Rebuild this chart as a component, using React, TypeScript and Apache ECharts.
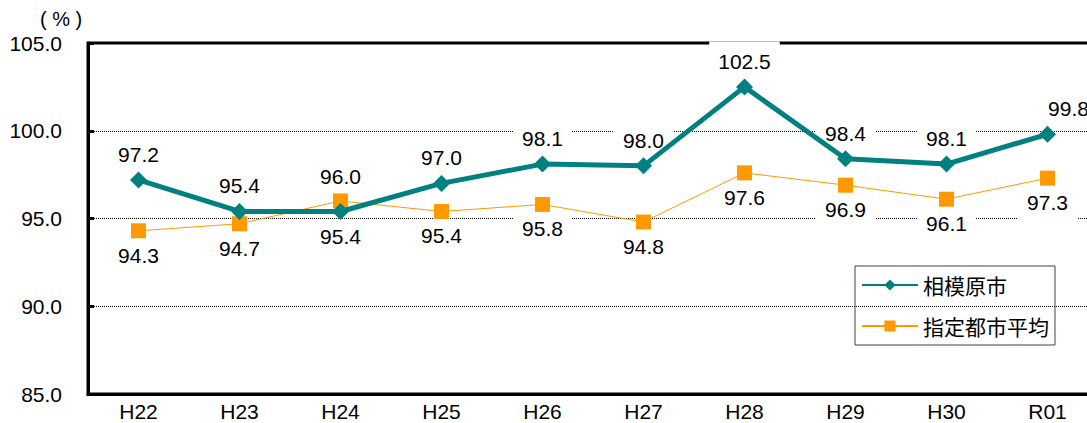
import React, { useEffect, useRef } from 'react';
import * as echarts from 'echarts';

const categories = ['H22', 'H23', 'H24', 'H25', 'H26', 'H27', 'H28', 'H29', 'H30', 'R01'];
const sagamihara = [97.2, 95.4, 95.4, 97.0, 98.1, 98.0, 102.5, 98.4, 98.1, 99.8];
const cityAverage = [94.3, 94.7, 96.0, 95.4, 95.8, 94.8, 97.6, 96.9, 96.1, 97.3];
const sagamiharaLabelPosition = ['top', 'top', 'bottom', 'top', 'top', 'top', 'top', 'top', 'top', 'top'];
const cityAverageLabelPosition = ['bottom', 'bottom', 'top', 'bottom', 'bottom', 'bottom', 'bottom', 'bottom', 'bottom', 'bottom'];
const seriesNames = ['相模原市', '指定都市平均'];
const yMin = 85;
const yMax = 105;
const yInterval = 5;
const unitLabel = '( % )';

const FONT = "'Liberation Sans', Arial, sans-serif";
const CJK = "'Noto Sans CJK JP', 'Noto Sans CJK SC', sans-serif";

export default function App() {
  const ref = useRef<HTMLDivElement>(null);

  useEffect(() => {
    const chart = echarts.init(ref.current as HTMLDivElement, null, { renderer: 'svg' });
    const labelBase = {
      show: true,
      color: '#000',
      fontFamily: FONT,
      fontSize: 21,
      lineHeight: 24,
      backgroundColor: '#fff',
      padding: [3, 8],
      distance: 2,
      formatter: (p: any) => Number(p.value).toFixed(1),
    };
    const padFor = (pos: string) => (pos === 'top' ? [8, 9, 3, 9] : [3, 9, 8, 9]);
    const last = categories.length - 1;
    const hidden = 'rgba(0,0,0,0)';
    chart.setOption({
      animation: false,
      grid: {
        left: 88,
        top: 43,
        width: 1010,
        height: 351,
        outerBoundsMode: 'none',
        containLabel: false,
        show: true,
        borderColor: '#000',
        borderWidth: 3,
        backgroundColor: 'transparent',
      },
      legend: {
        data: seriesNames,
        orient: 'vertical',
        left: 855,
        top: 266,
        padding: [7, 6],
        itemWidth: 56,
        itemHeight: 14,
        itemGap: 17,
        borderColor: '#404040',
        borderWidth: 1,
        textStyle: { fontFamily: CJK, fontSize: 21, color: '#000', lineHeight: 24 },
      },
      graphic: [
        {
          type: 'text',
          left: 40,
          top: 9,
          style: { text: unitLabel, fontFamily: FONT, fontSize: 20, fill: '#000' },
        },
      ],
      xAxis: {
        type: 'category',
        data: categories,
        boundaryGap: true,
        axisLine: { lineStyle: { color: '#000', width: 3 } },
        axisTick: { inside: true, length: 6, lineStyle: { color: '#000', width: 2 } },
        axisLabel: { color: '#000', fontFamily: FONT, fontSize: 21, lineHeight: 21, margin: 7 },
        splitLine: { show: false },
      },
      yAxis: {
        type: 'value',
        min: yMin,
        max: yMax,
        interval: yInterval,
        axisLine: { show: true, lineStyle: { color: '#000', width: 3 } },
        axisTick: { show: true, inside: true, length: 6, lineStyle: { color: '#000', width: 3 } },
        axisLabel: {
          color: '#000',
          fontFamily: FONT,
          fontSize: 21,
          margin: 26,
          formatter: (v: number) => v.toFixed(1),
        },
        splitLine: { show: true, lineStyle: { type: 'dotted', color: '#000', width: 1 } },
      },
      series: [
        // label layers (below the lines, above the grid)
        {
          name: 'avgLabels',
          type: 'line',
          data: cityAverage.map((v, i) => ({
            value: v,
            label: { position: cityAverageLabelPosition[i], padding: padFor(cityAverageLabelPosition[i]) },
          })),
          symbol: 'rect',
          symbolSize: 15,
          itemStyle: { color: hidden },
          lineStyle: { color: hidden, width: 0 },
          label: labelBase,
          silent: true,
          z: 1,
        },
        {
          name: 'sagamiharaLabels',
          type: 'line',
          data: sagamihara.map((v, i) => ({
            value: v,
            label: {
              position: sagamiharaLabelPosition[i],
              padding: padFor(sagamiharaLabelPosition[i]),
              offset: i === last ? [21, 0] : [0, 0],
            },
          })),
          symbol: 'diamond',
          symbolSize: 17,
          itemStyle: { color: hidden },
          lineStyle: { color: hidden, width: 0 },
          label: labelBase,
          silent: true,
          z: 1,
        },
        {
          name: seriesNames[1],
          type: 'line',
          data: cityAverage,
          symbol: 'rect',
          symbolSize: 15,
          itemStyle: { color: '#FF9900' },
          lineStyle: { color: '#FF9900', width: 1 },
          label: { show: false },
          z: 3,
        },
        {
          name: seriesNames[0],
          type: 'line',
          data: sagamihara,
          symbol: 'diamond',
          symbolSize: 17,
          itemStyle: { color: '#008080' },
          lineStyle: { color: '#008080', width: 5 },
          label: { show: false },
          z: 4,
        },
      ],
    });
    return () => chart.dispose();
  }, []);

  return <div ref={ref} style={{ position: 'absolute', left: 0, top: 0, width: 1087, height: 423 }} />;
}
